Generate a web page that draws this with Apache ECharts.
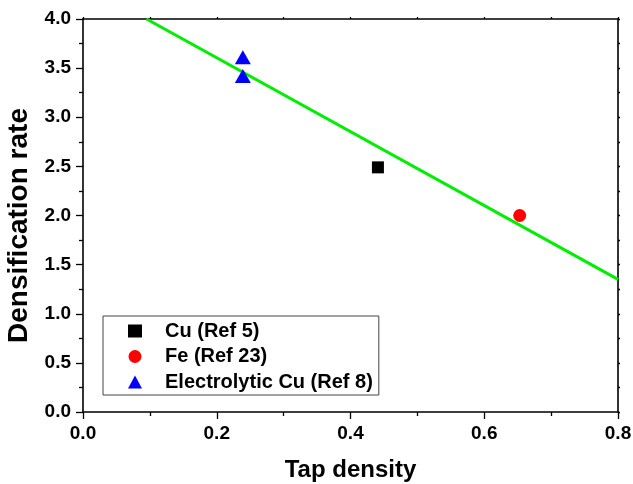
<!DOCTYPE html>
<html><head><meta charset="utf-8">
<script src="https://cdn.jsdelivr.net/npm/echarts@6/dist/echarts.min.js"></script>
<style>html,body{margin:0;padding:0;background:#fff}#c{width:633px;height:484px}</style>
</head><body><div id="c"></div>
<script>
const cuRef5 = [[0.441, 2.49]];
const feRef23 = [[0.653, 2.0]];
const elecCuRef8 = [[0.239, 3.61], [0.239, 3.42]];
const fitLine = [[0.095, 4.0], [0.8, 1.35]];
const xTicks = [0.0, 0.2, 0.4, 0.6, 0.8];
const yTicks = [0.0, 0.5, 1.0, 1.5, 2.0, 2.5, 3.0, 3.5, 4.0];

const font = 'Liberation Sans, Arial, sans-serif';
const chart = echarts.init(document.getElementById('c'));
function axisStyle(main) {
  return {
    axisLine: {show: true, onZero: false, lineStyle: {color: '#000', width: 1.6}},
    axisTick: {show: true, length: main ? 7 : 2, lineStyle: {color: '#000', width: 1.3}},
    minorTick: {show: true, splitNumber: 2, length: main ? 4 : 2, lineStyle: {color: '#000', width: 1.3}},
    splitLine: {show: false}
  };
}
const tickLabel = {fontFamily: font, fontWeight: 'bold', fontSize: 19, color: '#000', margin: 12,
  formatter: v => v.toFixed(1)};
chart.setOption({
  animation: false,
  grid: {left: 83, right: 15, top: 19, bottom: 72, containLabel: false, outerBoundsMode: 'none'},
  xAxis: [
    Object.assign({type: 'value', min: 0, max: 0.8, interval: 0.2, position: 'bottom',
      name: 'Tap density', nameLocation: 'middle', nameGap: 46,
      nameTextStyle: {fontFamily: font, fontWeight: 'bold', fontSize: 24, color: '#000'},
      axisLabel: tickLabel}, axisStyle(true)),
    Object.assign({type: 'value', min: 0, max: 0.8, interval: 0.2, position: 'top',
      axisLabel: {show: false}}, axisStyle(false))
  ],
  yAxis: [
    Object.assign({type: 'value', min: 0, max: 4, interval: 0.5, position: 'left',
      name: 'Densification rate', nameLocation: 'middle', nameGap: 46,
      nameTextStyle: {fontFamily: font, fontWeight: 'bold', fontSize: 28, color: '#000', padding: [0, 20, 0, 0]},
      axisLabel: tickLabel}, axisStyle(true)),
    Object.assign({type: 'value', min: 0, max: 4, interval: 0.5, position: 'right',
      axisLabel: {show: false}}, axisStyle(false))
  ],
  legend: {
    orient: 'vertical', left: 103, top: 316,
    backgroundColor: '#fff', borderColor: '#444', borderWidth: 1,
    padding: [5, 6, 3, 25], itemGap: 5.5, itemWidth: 14, itemHeight: 13,
    textStyle: {fontFamily: font, fontWeight: 'bold', fontSize: 20, color: '#000', padding: [0, 0, 0, 18]},
    data: [
      {name: 'Cu (Ref 5)', icon: 'rect'},
      {name: 'Fe (Ref 23)', icon: 'circle'},
      {name: 'Electrolytic Cu (Ref 8)', icon: 'triangle'}
    ]
  },
  series: [
    {type: 'line', data: fitLine, showSymbol: false, symbol: 'none',
      lineStyle: {color: '#00ee00', width: 3}, silent: true, z: 1},
    {name: 'Cu (Ref 5)', type: 'scatter', data: cuRef5, symbol: 'rect', symbolSize: 12,
      itemStyle: {color: '#000', opacity: 1}, z: 3},
    {name: 'Fe (Ref 23)', type: 'scatter', data: feRef23, symbol: 'circle', symbolSize: 13,
      itemStyle: {color: '#ff0000', opacity: 1}, z: 3},
    {name: 'Electrolytic Cu (Ref 8)', type: 'scatter', data: elecCuRef8, symbol: 'triangle', symbolSize: [16, 14],
      itemStyle: {color: '#0000ff', opacity: 1}, z: 3}
  ]
});
</script></body></html>
